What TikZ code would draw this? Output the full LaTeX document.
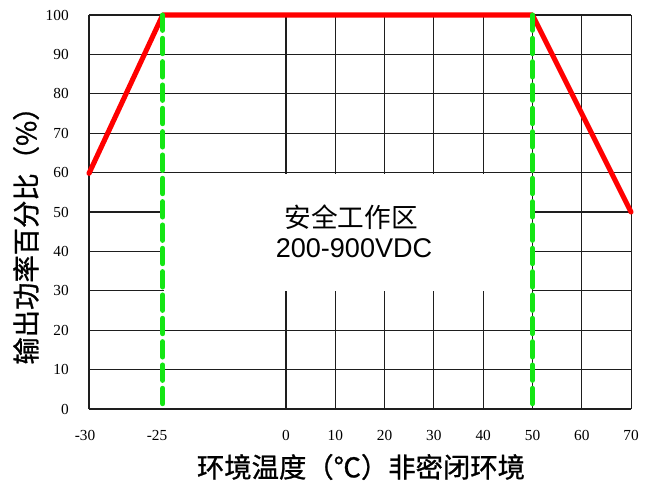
\documentclass[tikz,border=0pt]{standalone}
\usepackage{fontspec}
\setmainfont{Liberation Serif}
\newfontfamily\cjk{Noto Sans CJK SC}
\newfontfamily\cjkheavy[FakeBold=1.0]{Noto Sans CJK SC}
\newfontfamily\arial{Liberation Sans}
\definecolor{gridc}{RGB}{30,30,30}
\definecolor{safegreen}{RGB}{20,230,20}
\begin{document}
\begin{tikzpicture}[x=0.75pt,y=-0.75pt,
  gridline/.style={gridc, line width=0.8pt},
  derate/.style={red, line width=3.8pt, line join=round, line cap=round},
  limitline/.style={safegreen, line width=3.8pt, line cap=round, dash pattern=on 11.5pt off 6pt},
  ylab/.style={anchor=east, font=\fontsize{11.5}{13}\selectfont, inner sep=0pt},
  xlab/.style={anchor=center, font=\fontsize{11.5}{13}\selectfont, inner sep=0pt},
  axtitle/.style={font=\cjkheavy\fontsize{20.5}{24}\selectfont, inner sep=0pt},
  zonetext/.style={font=\cjk\fontsize{20}{24}\selectfont, inner sep=0pt},
  zonevolt/.style={font=\arial\fontsize{20.3}{24}\selectfont, inner sep=0pt}]
\useasboundingbox (0,0) rectangle (655,486);
% horizontal grid lines
\foreach \v in {0,...,10} {
  \draw[gridline] (89,{409-39.4*\v}) -- (631,{409-39.4*\v});
}
% vertical grid lines
\draw[gridline] (89,409) -- (89,15);
\foreach \t in {0,10,...,70} {
  \draw[gridline] ({286+4.93*\t},409) -- ({286+4.93*\t},15);
}
% blank area of the safe zone
\fill[white] (164,174) rectangle (531.5,291.2);
% derating curve
\draw[derate] (89,173.4) -- (162.7,15) -- (532.5,15) -- (631,212);
% temperature limits
\draw[limitline] (162.7,15) -- (162.7,411);
\draw[limitline] (532.5,15) -- (532.5,411);
% y tick labels
\foreach \v in {0,10,...,100} {
  \node[ylab] (y\v) at (69,{409-3.94*\v}) {\v};
}
% x tick labels
\node[xlab] (xm30) at (85,435) {-30};
\node[xlab] (xm25) at (157,435) {-25};
\foreach \t in {0,10,...,70} {
  \node[xlab] (x\t) at ({286+4.93*\t},435) {\t};
}
% titles
\node[axtitle] (xtitle) at (361,467) {环境温度（℃）非密闭环境};
\node[axtitle, rotate=90] (ytitle) at (26,229) {输出功率百分比（\%）};
\node[zonetext] (zone) at (351,217) {安全工作区};
\node[zonevolt] (volt) at (354,248) {200-900VDC};
\end{tikzpicture}
\end{document}
